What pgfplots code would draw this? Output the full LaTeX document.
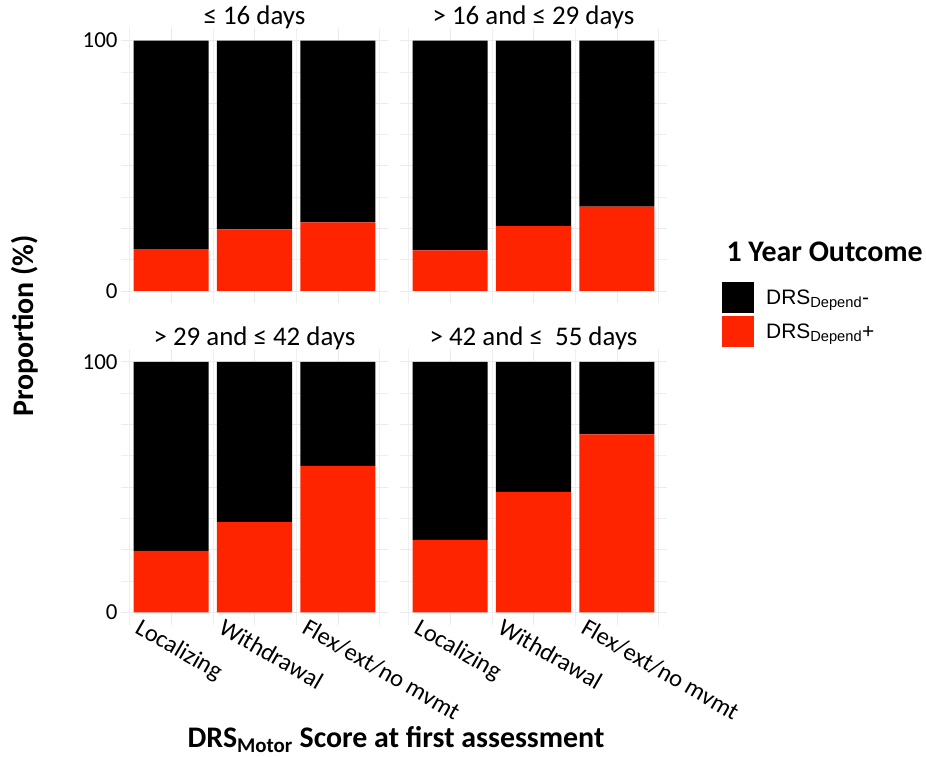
\documentclass[border=0pt]{standalone}
\usepackage{pgfplots}
\pgfplotsset{compat=1.18}
\usepackage{fontspec}
\setmainfont{Carlito}
\newfontfamily\arialfont{Liberation Sans}
\definecolor{drsred}{RGB}{255,36,0}
\definecolor{gridgray}{RGB}{235,235,235}

\pgfplotsset{
  facet/.style={
    scale only axis, width=267bp, height=275.5bp,
    xmin=-0.6, xmax=2.6, ymin=-5, ymax=105,
    ybar stacked, bar width=0.9,
    axis line style={draw=none},
    major tick length=0pt, minor tick length=0pt,
    xtick={0,1,2}, minor xtick={-0.5,0.5,1.5,2.5},
    ytick={0,25,50,75,100}, minor ytick={12.5,37.5,62.5,87.5},
    grid=both,
    major grid style={gridgray, line width=0.7bp},
    minor grid style={gridgray!80, line width=0.5bp},
    xticklabels={}, yticklabels={},
    tick label style={font=\fontsize{23}{27}\selectfont},
    /pgf/number format/assume math mode=true,
    title style={font=\fontsize{27}{31}\selectfont, at={(0.5,1)}, anchor=base, yshift=-2bp},
  },
  lefty/.style={yticklabels={0,,,,100}},
  bottomx/.style={
    xticklabels={Localizing,Withdrawal,Flex/ext/no mvmt},
    xticklabel style={font=\fontsize{24.5}{28}\selectfont,
      xshift=-30bp, yshift=12bp, rotate=-30, anchor=north west},
  },
}

\begin{document}
\begin{tikzpicture}
\useasboundingbox (0,0) rectangle (926bp,757bp);

% <= 16 days
\begin{axis}[facet, lefty, at={(121bp,453.5bp)}, title={≤ 16 days}]
\addplot[fill=drsred, draw=none] coordinates {(0,16.7) (1,24.6) (2,27.4)};
\addplot[fill=black, draw=none] coordinates {(0,83.3) (1,75.4) (2,72.6)};
\end{axis}

% > 16 and <= 29 days
\begin{axis}[facet, at={(400bp,453.5bp)}, title={> 16 and ≤ 29 days},
  reverse legend,
  legend image code/.code={\fill[#1] (0bp,-15.5bp) rectangle (32bp,15.5bp);},
  legend style={draw=none, fill=none, at={(1.206,0.078)}, anchor=north west,
    font=\arialfont\fontsize{21}{25}\selectfont, row sep=3bp, column sep=12bp,
    inner sep=0pt, nodes={inner sep=0pt}},
  legend cell align=left]
\addplot[fill=drsred, draw=none] coordinates {(0,16.2) (1,25.9) (2,33.7)};
\addplot[fill=black, draw=none] coordinates {(0,83.8) (1,74.1) (2,66.3)};
\legend{DRS\textsubscript{Depend}+, DRS\textsubscript{Depend}-}
\end{axis}

% > 29 and <= 42 days
\begin{axis}[facet, lefty, bottomx, at={(121bp,132.2bp)}, title={> 29 and ≤ 42 days}]
\addplot[fill=drsred, draw=none] coordinates {(0,24.5) (1,36.0) (2,58.5)};
\addplot[fill=black, draw=none] coordinates {(0,75.5) (1,64.0) (2,41.5)};
\end{axis}

% > 42 and <= 55 days
\begin{axis}[facet, bottomx, at={(400bp,132.2bp)}, title={> 42 and ≤\ \ 55 days}]
\addplot[fill=drsred, draw=none] coordinates {(0,28.9) (1,48.1) (2,71.0)};
\addplot[fill=black, draw=none] coordinates {(0,71.1) (1,51.9) (2,29.0)};
\end{axis}

\node[font=\bfseries\fontsize{30}{34}\selectfont, anchor=base west] at (723bp,495bp) {1 Year Outcome};
\node[font=\bfseries\fontsize{30}{34}\selectfont, rotate=90] at (25bp,431bp) {Proportion (\%)};
\node[font=\bfseries\fontsize{30}{34}\selectfont, anchor=base] at (396bp,10bp) {DRS\textsubscript{Motor} Score at first assessment};
\end{tikzpicture}
\end{document}
